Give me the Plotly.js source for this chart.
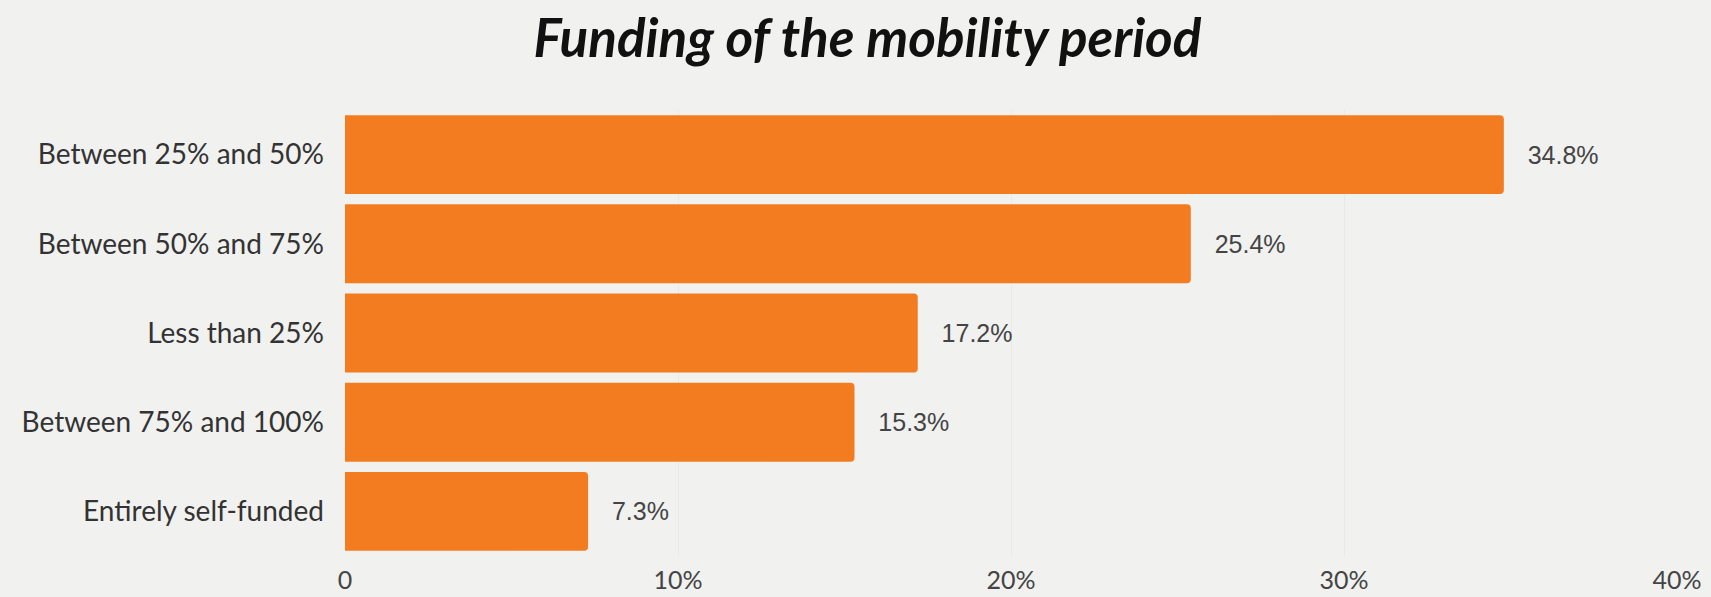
<!DOCTYPE html>
<html>
<head>
<meta charset="utf-8">
<script src="https://cdn.plot.ly/plotly-3.0.1.min.js"></script>
<style>
html,body{margin:0;padding:0;background:#f1f1f0;}
#chart{width:1711px;height:597px;}
</style>
</head>
<body>
<div id="chart"></div>
<script>
const categories = ["Between 25% and 50%", "Between 50% and 75%", "Less than 25%", "Between 75% and 100%", "Entirely self-funded"];
const values = [34.8, 25.4, 17.2, 15.3, 7.3];
const tickValues = [0, 10, 20, 30, 40];
const tickLabels = ["0", "10%", "20%", "30%", "40%"];

const trace = {
  type: 'bar',
  orientation: 'h',
  y: categories,
  x: values,
  text: values.map(v => '   ' + v.toFixed(1) + '%'),
  textposition: 'outside',
  cliponaxis: false,
  textfont: {family: 'Liberation Sans, Arial, sans-serif', size: 25, color: '#444'},
  marker: {color: '#f47c20', cornerradius: 4},
  hoverinfo: 'none'
};

const layout = {
  width: 1711, height: 597,
  paper_bgcolor: '#f1f1f0',
  plot_bgcolor: 'rgba(0,0,0,0)',
  margin: {l: 345, r: 34, t: 110, b: 41},
  bargap: 0.115,
  showlegend: false,
  title: {
    text: '<i><b>Funding of the mobility period</b></i>',
    font: {family: 'Lato, sans-serif', size: 53, color: '#111'},
    x: 0.507, xref: 'container', xanchor: 'center',
    y: 0.936, yref: 'container', yanchor: 'middle'
  },
  xaxis: {
    range: [0, 40],
    tickvals: tickValues,
    ticktext: tickLabels,
    showgrid: true,
    gridcolor: 'rgba(0,0,0,0.03)',
    zeroline: false,
    showline: false,
    ticks: '',
    ticklabelstandoff: 7,
    tickfont: {family: 'Lato, sans-serif', size: 25, color: '#444'},
    fixedrange: true
  },
  yaxis: {
    autorange: 'reversed',
    showgrid: false,
    zeroline: false,
    showline: false,
    ticks: '',
    ticklabelstandoff: 20,
    tickfont: {family: 'Lato, sans-serif', size: 28, color: '#333'},
    fixedrange: true
  }
};

Plotly.newPlot('chart', [trace], layout, {displayModeBar: false, staticPlot: true});
</script>
</body>
</html>
